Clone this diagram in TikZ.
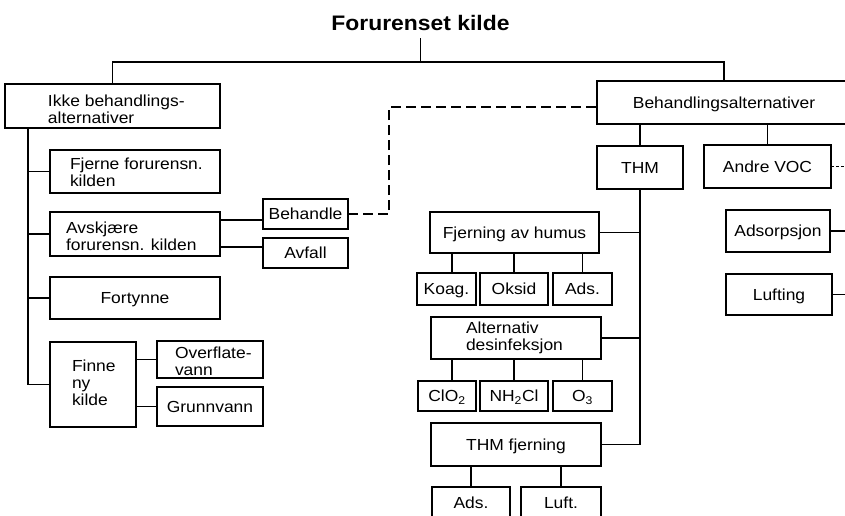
\documentclass[tikz,border=0pt]{standalone}
\usepackage{fontspec}
\setmainfont[FakeStretch=1.09]{Liberation Sans}
\newcommand{\lblk}[3]{\makebox[#1][l]{\begin{tabular}[t]{@{\hspace*{#2}}l@{}}#3\end{tabular}}}
\renewcommand{\arraystretch}{1}
\begin{document}
\begin{tikzpicture}[x=1pt,y=-1pt,line width=1.2pt,
  bx/.style={draw, rectangle, inner sep=0pt, outer sep=0pt, font=\fontsize{16}{17}\selectfont, line width=1.2pt},
  sl/.style={bx, text height=11.5pt, text depth=0pt},
  ml/.style={bx},
  dsh/.style={dash pattern=on 10pt off 5pt, line width=1.2pt},
  sdash/.style={dash pattern=on 2.5pt off 2.5pt, line width=1pt}]
\fill[white] (0,0) rectangle (845,515);
\useasboundingbox (0,0) rectangle (845,515);
\clip (0,0) rectangle (845,515);

% title
\node[font=\bfseries\fontsize{21}{25}\selectfont, anchor=base, inner sep=0pt] (title) at (420.5,30) {Forurenset kilde};
\coordinate (top) at (420,62);

% left branch
\node[ml, minimum width=215pt, minimum height=44pt, text height=5pt, text depth=5pt] (ikke) at (112.5,106)
  {\lblk{215pt}{43pt}{Ikke behandlings-\\alternativer}};
\node[ml, minimum width=170pt, minimum height=43pt, text height=0pt, text depth=5pt] (fjerne) at (135,171.5)
  {\lblk{170pt}{20pt}{Fjerne forurensn.\\kilden}};
\node[ml, minimum width=170pt, minimum height=44pt, text height=3pt, text depth=5pt] (avs) at (135,234)
  {\lblk{170pt}{16pt}{Avskjære\\forurensn. kilden}};
\node[sl, minimum width=170pt, minimum height=42pt] (fort) at (135,298) {Fortynne};
\node[ml, minimum width=86pt, minimum height=85pt, text height=0.4pt, text depth=26pt] (finne) at (93,384.5)
  {\lblk{86pt}{22pt}{Finne\\ny\\kilde}};
\node[ml, minimum width=106pt, minimum height=37pt, text height=2.6pt, text depth=5pt] (overfl) at (210,359.5)
  {\lblk{106pt}{18pt}{Overflate-\\vann}};
\node[sl, minimum width=106pt, minimum height=39pt] (grunn) at (210,406.5) {Grunnvann};
\node[sl, minimum width=85pt, minimum height=30pt] (behandle) at (305.5,214) {Behandle};
\node[sl, minimum width=85pt, minimum height=30pt] (avfall) at (305.5,253) {Avfall};

% right branch
\node[sl, minimum width=254pt, minimum height=43pt] (beh) at (724,102.5) {Behandlingsalternativer};
\node[sl, minimum width=86pt, minimum height=43pt] (thm) at (640,167.5) {THM};
\node[sl, minimum width=127pt, minimum height=43pt] (voc) at (767.5,166.5) {Andre VOC};
\node[sl, minimum width=104pt, minimum height=42pt] (adsp) at (778,231) {Adsorpsjon};
\node[sl, minimum width=106pt, minimum height=41pt] (luftg) at (779,294.5) {Lufting};

\node[sl, minimum width=169pt, minimum height=41pt] (humus) at (514.5,232.5) {Fjerning av humus};
\node[sl, minimum width=59pt, minimum height=32pt] (koag) at (446.5,289) {Koag.};
\node[sl, minimum width=68pt, minimum height=32pt] (oksid) at (514,289) {Oksid};
\node[sl, minimum width=59pt, minimum height=32pt] (adsa) at (582.5,289) {Ads.};

\node[ml, minimum width=170pt, minimum height=42pt, text height=0pt, text depth=10pt] (altdes) at (516,338)
  {\lblk{170pt}{35pt}{Alternativ\\desinfeksjon}};
\node[sl, minimum width=58pt, minimum height=30pt] (clo) at (447,396) {ClO\textsubscript{2}};
\node[sl, minimum width=68pt, minimum height=30pt] (nhc) at (514,396) {NH\textsubscript{2}Cl};
\node[sl, minimum width=59pt, minimum height=30pt] (ozo) at (582.5,396) {O\textsubscript{3}};

\node[sl, minimum width=170pt, minimum height=43pt] (thmfj) at (516,444.5) {THM fjerning};
\node[sl, minimum width=78pt, minimum height=32pt] (adsb) at (471,503) {Ads.};
\node[sl, minimum width=80pt, minimum height=32pt] (luft) at (561,503) {Luft.};

% top connectors
\draw ([yshift=-8pt]title.base) -- (title.base |- top);
\draw (ikke.north) |- (top) -| (beh.north);

% left trunk
\coordinate (tk) at ([xshift=23pt]ikke.south west);
\draw (tk) |- (finne.west);
\draw (fjerne.west) -- (fjerne.west -| tk);
\draw (avs.west) -- (avs.west -| tk);
\draw (fort.west) -- (fort.west -| tk);
\draw (overfl.west -| finne.east) -- (overfl.west);
\draw (grunn.west -| finne.east) -- (grunn.west);
\draw (avs.east |- 0,220) -- (behandle.west |- 0,220);
\draw (avs.east |- 0,247) -- (avfall.west |- 0,247);

% dashed link
\draw[dsh] (behandle.east) -| (389,107) -- (beh.west |- 389,107);

% right connectors
\draw (thm.north) -- (thm.north |- beh.south);
\draw (voc.north) -- (voc.north |- beh.south);
\draw (thm.south) |- (thmfj.east);
\draw (humus.east) -- (humus.east -| thm.south);
\draw (altdes.east) -- (altdes.east -| thm.south);

\draw (452,0 |- koag.north) -- (452,0 |- humus.south);
\draw (oksid.north) -- (oksid.north |- humus.south);
\draw (adsa.north) -- (adsa.north |- humus.south);
\draw (452,0 |- clo.north) -- (452,0 |- altdes.south);
\draw (nhc.north) -- (nhc.north |- altdes.south);
\draw (ozo.north) -- (ozo.north |- altdes.south);
\draw (adsb.north) -- (adsb.north |- thmfj.south);
\draw (luft.north) -- (luft.north |- thmfj.south);

% right edge continuations
\coordinate (edge) at (850,0);
\draw[sdash] (voc.east) -- (voc.east -| edge);
\draw (adsp.east) -- (adsp.east -| edge);
\draw (luftg.east) -- (luftg.east -| edge);
\end{tikzpicture}
\end{document}
